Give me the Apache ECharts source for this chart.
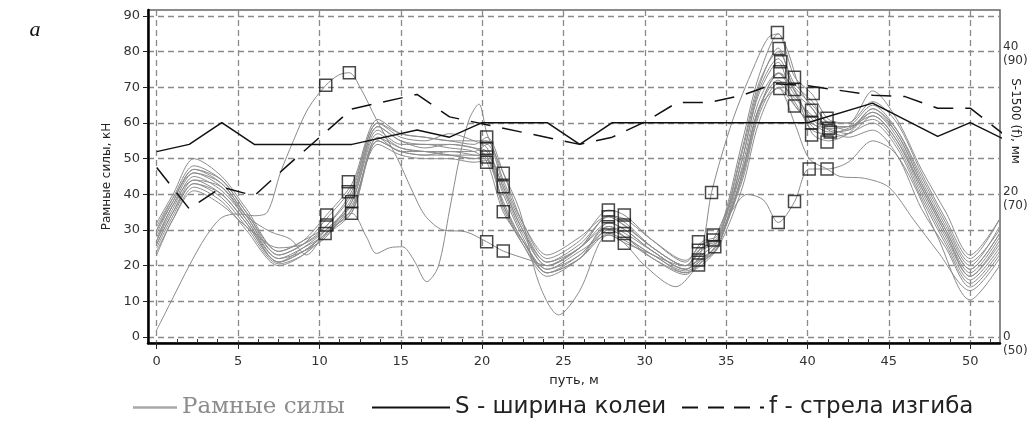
<!DOCTYPE html>
<html>
<head>
<meta charset="utf-8">
<script src="https://cdn.jsdelivr.net/npm/echarts@6/dist/echarts.min.js"></script>
<style>
html, body { margin: 0; padding: 0; background: #fff; }
#chart { width: 1032px; height: 428px; }
</style>
</head>
<body>
<div id="chart"></div>
<script>
// путь, м - common positions for the bundle of frame force runs
var pathX = [0, 1, 2.3, 4, 5.5, 7.5, 9, 10.4, 12, 13.6, 15, 16.5, 18, 19.5, 20.3, 21.3, 22.5, 24, 26, 27.8, 28.8, 30.5, 32.5, 33.5, 34.5, 36, 37, 38.2, 39.2, 40.3, 41.3, 42.5, 44, 45.5, 47, 48.5, 50, 51.8];

// Рамные силы, кН (each row = one run)
var forceRuns = [
  [32, 40, 50, 45, 36, 24, 27, 34, 43, 61, 57, 56, 55, 54, 56, 46, 32, 22, 27, 35.6, 34, 27, 21, 26.7, 28.6, 55, 73, 85, 73, 68, 61, 60, 66, 60, 46, 33, 22, 33],
  [30, 39, 48, 44, 35, 23, 26, 31, 41, 60, 56, 55, 57, 55, 53, 42, 30, 21, 26, 33.7, 31, 25, 20, 24.3, 27.2, 52, 70, 81, 69, 64, 58.5, 59, 65, 58, 44, 31, 20, 31],
  [29, 38, 47, 43, 34, 22, 25, 29, 39, 59, 55, 53, 54, 53, 50.5, 41, 29, 20, 25, 31, 29, 24, 19, 21.6, 25.3, 50, 68, 77, 65, 60, 57.5, 58, 64, 57, 43, 30, 19, 29],
  [28, 37, 46, 42, 33, 22, 24, 28, 38, 58, 54, 54, 53, 52, 49, 35, 27, 19, 24, 28.6, 26.3, 23, 18, 20.2, 25.3, 48, 66, 74, 69, 57, 55, 57, 63, 56, 42, 29, 18, 28],
  [27, 36, 45, 41, 33, 21, 25, 30, 38, 57, 53, 52, 52, 51, 50, 38, 27, 19, 23, 31, 28, 22, 17.5, 22, 26, 46, 64, 72, 66, 58, 57, 58.5, 62, 55, 41, 28, 17, 26],
  [26, 35, 44, 40, 32, 21, 24, 29, 36, 56, 52, 52, 51, 50, 51, 40, 28, 18, 22, 32, 30, 24, 19, 23, 27, 44, 62, 71, 67, 62, 59, 59, 61, 54, 40, 27, 16, 25],
  [25, 34, 43, 39, 31, 20.5, 23, 28.5, 35, 55, 52, 51, 52, 52, 54, 43, 31, 21, 25, 34, 32, 25, 20, 25, 27.5, 50, 69, 78, 70, 65, 60, 58, 64, 58, 45, 32, 21, 30],
  [24, 33, 42, 38, 30, 20, 23, 30, 37, 54, 51, 50, 50, 49, 49.5, 36, 26, 18, 22, 29, 27, 22, 18, 21, 25, 42, 60, 70, 65, 59, 56, 57, 60, 53, 39, 26, 15, 24],
  [31, 39, 46, 43, 34, 23, 26, 33, 42, 60, 57, 56, 55, 55, 55, 44, 32, 23, 28, 34, 33, 27, 21.5, 26, 28, 53, 71, 80, 71, 66, 60, 60, 69, 61, 47, 35, 23, 33],
  [23, 33, 41, 37, 31, 25, 26, 30, 35, 56, 53, 52, 51, 51, 51, 37, 26, 17, 22, 30, 28, 23, 20, 22, 26, 45, 63, 74, 68, 61, 58, 56, 58, 51, 36, 25, 14, 23]
];

// runs that leave the bundle, as [путь, сила]
var runTall = [[0, 2], [1, 11], [2, 20], [3, 28], [4, 33.5], [5, 34.5], [6, 34], [6.8, 35], [7.6, 46], [8.4, 55], [9.3, 64], [10.4, 70.6], [11.2, 73.5], [11.84, 74.1], [12.5, 70], [13.5, 61], [14.8, 50], [15.7, 41], [16.5, 34], [17.6, 30], [19, 29.5], [20.28, 26.7], [21.3, 24.1], [22.9, 21.6], [24, 20], [26, 25], [27.76, 33.7], [28.74, 31.4], [30.5, 25], [32.5, 20], [33.3, 24.3], [34.2, 27.2], [36, 47], [37, 64], [38.3, 74], [39.2, 69.4], [40.25, 60], [41.2, 58.5], [42.5, 57], [44, 62], [45.5, 55], [47, 42], [48.5, 29], [50, 17], [51.8, 27]];
var runDip = [[0, 27], [1, 37], [2.3, 44], [4, 42], [5.5, 34], [7, 29.5], [8.2, 27.5], [9.2, 23], [10.35, 29], [11.98, 34.7], [12.9, 28], [13.5, 23.4], [14.3, 25], [15.1, 25.3], [15.8, 21.6], [16.6, 15.5], [17.3, 19.7], [18, 35.6], [18.6, 50], [19.2, 61], [19.8, 65.3], [20.3, 57], [21.3, 46], [22.3, 35.6], [23.5, 15], [24.7, 6.2], [26, 13], [27.2, 26.3], [27.76, 28.6], [28.74, 26.3], [30, 20], [31.9, 14.1], [33.3, 20.2], [34.3, 25.3], [35.3, 35], [36.3, 40], [37.3, 38.4], [38.2, 32.1], [39.2, 37.9], [40.1, 47.1], [41.2, 47.1], [42.5, 49], [44, 55], [45.3, 52], [46.5, 43], [48, 28], [50, 10.4], [51.8, 20]];
var runEarly = [[0, 30], [1, 38], [2.3, 47], [4, 44], [5.5, 35], [7.5, 24], [9, 27], [10.4, 31], [12, 40], [13.6, 59], [15, 55], [16.5, 54], [18, 54], [19.5, 53], [20.3, 52], [21.3, 42], [22.5, 30], [24, 20], [26, 25], [27.8, 32], [28.8, 30], [30.5, 24], [32.5, 19], [33.3, 22], [33.7, 29], [34.1, 40.5], [35.4, 60.8], [36.7, 75.7], [37.6, 84], [38.2, 85], [38.8, 80], [39.5, 70], [40.3, 64], [41.3, 59], [42.5, 59], [44, 63], [45.5, 57], [47, 43], [48.5, 30], [50, 19], [51.8, 29]];
var runLow = [[0, 26], [1, 35], [2.3, 43], [4, 40], [5.5, 32], [7.5, 21], [9, 24], [10.4, 29], [12, 36], [13.6, 55], [15, 52], [16.5, 51], [18, 51], [19.5, 50], [20.3, 50], [21.3, 37], [22.5, 27], [24, 18], [26, 23], [27.8, 30], [28.8, 28], [30.5, 23], [32.5, 18.5], [33.5, 21], [34.5, 25.5], [36, 46], [37, 64], [38.2, 69.7], [39.2, 60], [40.1, 50], [41.2, 47.1], [42, 45], [43.5, 44.5], [45, 42], [46.5, 33], [48, 24], [50, 13], [51.8, 22]];

// marked points (squares)
var markPoints = [
  [10.39, 70.6], [11.84, 74.1], [11.78, 43.5], [10.45, 34.2], [10.45, 31.4], [10.35, 29], [11.78, 40.7], [11.98, 37.9], [11.98, 34.7],
  [20.28, 56.1], [20.28, 52.9], [20.28, 50.5], [20.28, 49], [21.3, 45.9], [21.3, 42.1], [21.3, 35.1], [20.28, 26.7], [21.3, 24.1],
  [27.76, 35.6], [27.76, 33.7], [27.76, 30.9], [27.76, 28.6], [28.74, 34.2], [28.74, 31.4], [28.74, 29], [28.74, 26.3],
  [33.3, 26.7], [33.3, 24.3], [33.3, 21.6], [33.3, 20.2], [34.2, 28.6], [34.2, 27.2], [34.3, 25.3], [34.1, 40.5],
  [38.15, 85.4], [38.25, 80.9], [38.35, 77.2], [38.3, 74.4], [38.3, 69.7], [39.2, 72.8], [39.2, 69.4], [39.2, 64.8],
  [40.35, 68.3], [40.25, 63.6], [40.25, 60], [40.25, 56.6], [41.2, 61.3], [41.3, 58.5], [41.4, 57.5], [41.2, 54.7],
  [40.1, 47.1], [41.2, 47.1], [39.2, 38], [38.2, 32.1]
];

// S-1500, мм (right scale)
var gaugeX = [0, 2, 4, 6, 12, 16, 18, 20, 24, 26, 28, 40, 44, 48, 50, 52];
var gaugeS = [25.6, 26.6, 29.6, 26.6, 26.6, 28.6, 27.6, 29.6, 29.6, 26.6, 29.6, 29.6, 32.3, 27.7, 29.6, 27.4];
// f, мм on the same right scale (label in brackets = f)
var bendX = [0, 2, 4, 6, 8, 12, 16, 18, 26, 28, 30, 32, 34, 36, 38, 40, 44, 46, 48, 50, 52];
var bendF = [23.4, 17.7, 20.7, 19.5, 23.6, 31.5, 33.5, 30.4, 26.6, 27.6, 29.7, 32.4, 32.4, 33.4, 35, 34.7, 33.4, 33.2, 31.6, 31.6, 28.1];

// ticks
var xTicks = [0, 5, 10, 15, 20, 25, 30, 35, 40, 45, 50];
var xMinorTicks = [1.25, 2.5, 3.75, 6.25, 7.5, 8.75, 11.25, 12.5, 13.75, 16.25, 17.5, 18.75, 21.25, 22.5, 23.75, 26.25, 27.5, 28.75, 31.25, 32.5, 33.75, 36.25, 37.5, 38.75, 41.25, 42.5, 43.75, 46.25, 47.5, 48.75, 51.25];
var yTicks = [0, 10, 20, 30, 40, 50, 60, 70, 80, 90];
var rightTicks = [0, 20, 40];
var rightLabels = ['0\n(50)', '20\n(70)', '40\n(90)'];

var chart = echarts.init(document.getElementById('chart'), null, { renderer: 'canvas' });

var gray = '#8c8c8c';
var series = [];
forceRuns.forEach(function (run) {
  series.push({
    name: 'Рамные силы', type: 'line', smooth: 0.3, symbol: 'none',
    data: pathX.map(function (x, i) { return [x, run[i]]; }),
    lineStyle: { color: gray, width: 1 }, itemStyle: { color: '#a8a8a8' }
  });
});
[runTall, runDip, runEarly, runLow].forEach(function (run) {
  series.push({
    name: 'Рамные силы', type: 'line', smooth: 0.3, symbol: 'none', data: run,
    lineStyle: { color: gray, width: 1 }, itemStyle: { color: '#a8a8a8' }
  });
});
series.push({
  name: 'S - ширина колеи', type: 'line', yAxisIndex: 1, symbol: 'none',
  data: gaugeX.map(function (x, i) { return [x, gaugeS[i]]; }),
  lineStyle: { color: '#111', width: 1.5 }, itemStyle: { color: '#111' }, z: 4
});
series.push({
  name: 'f - стрела изгиба', type: 'line', yAxisIndex: 1, symbol: 'none',
  data: bendX.map(function (x, i) { return [x, bendF[i]]; }),
  lineStyle: { color: '#111', width: 1.5, type: [20, 12] }, itemStyle: { color: '#111' }, z: 4
});
series.push({
  type: 'scatter', symbol: 'rect', symbolSize: 12, data: markPoints,
  itemStyle: { color: 'rgba(255,255,255,0)', borderColor: '#1a1a1a', borderWidth: 1.5 }, z: 5
});

var sans = 'DejaVu Sans';
var option = {
  animation: false,
  backgroundColor: '#fff',
  grid: { left: 148, top: 10, right: 32, bottom: 85, show: true, borderColor: '#666', borderWidth: 1.5 },
  xAxis: [{
    type: 'value', min: -0.535, max: 51.83,
    name: 'путь, м', nameLocation: 'middle', nameGap: 31,
    nameTextStyle: { fontFamily: sans, fontSize: 13, color: '#222' },
    axisLine: { onZero: false, lineStyle: { color: '#000', width: 2.5 } },
    axisTick: { customValues: xTicks, length: 6, lineStyle: { color: '#222' } },
    axisLabel: { customValues: xTicks, margin: 12, fontFamily: sans, fontSize: 13, color: '#333' },
    splitLine: { show: true, lineStyle: { color: '#8a8a8a', width: 1.3, type: [6, 4] } }
  }, {
    type: 'value', min: -0.535, max: 51.83, position: 'bottom',
    axisLine: { show: false, onZero: false },
    axisTick: { customValues: xMinorTicks, inside: true, length: 4, lineStyle: { color: '#333' } },
    axisLabel: { show: false }, splitLine: { show: false }
  }],
  yAxis: [{
    type: 'value', min: -1.68, max: 91.68,
    name: 'Рамные силы, кН', nameLocation: 'middle', nameRotate: 90, nameGap: 32,
    nameTextStyle: { fontFamily: sans, fontSize: 12, color: '#222' },
    axisLine: { show: true, onZero: false, lineStyle: { color: '#000', width: 2.5 } },
    axisTick: { show: true, customValues: yTicks, length: 5, lineStyle: { color: '#222' } },
    axisLabel: { customValues: yTicks, margin: 8, fontFamily: sans, fontSize: 13, color: '#333' },
    splitLine: { show: true, lineStyle: { color: '#8a8a8a', width: 1.3, type: [6, 4] } }
  }, {
    type: 'value', min: -0.83, max: 45.16, position: 'right',
    axisLine: { show: false, onZero: false }, axisTick: { show: false, customValues: rightTicks },
    axisLabel: {
      customValues: rightTicks, margin: 3, fontFamily: sans, fontSize: 12, color: '#333', lineHeight: 14,
      formatter: function (v) { return ' \n' + rightLabels[rightTicks.indexOf(v)]; }
    },
    splitLine: { show: false }
  }],
  legend: [{
    left: 128, top: 391, itemWidth: 44, itemHeight: 2.5, itemGap: 0,
    data: [{ name: 'Рамные силы', icon: 'rect', textStyle: { fontFamily: 'DejaVu Serif', fontSize: 23, color: '#8c8c8c' } }]
  }, {
    left: 367, top: 391, itemWidth: 78, itemHeight: 2,
    data: [{ name: 'S - ширина колеи', icon: 'rect', textStyle: { fontFamily: sans, fontSize: 23, color: '#222' } }]
  }, {
    left: 677, top: 391, itemWidth: 82, itemHeight: 2,
    data: [{
      name: 'f - стрела изгиба',
      icon: 'path://M0,0h16v2h-16z M26,0h16v2h-16z M52,0h16v2h-16z M78,0h4v2h-4z',
      textStyle: { fontFamily: sans, fontSize: 23, color: '#222' }
    }]
  }],
  graphic: [{
    type: 'text', x: 1015, y: 121, rotation: -Math.PI / 2,
    style: { text: 'S-1500 (f), мм', font: '12px "DejaVu Sans"', fill: '#222', textAlign: 'center', textVerticalAlign: 'middle' }
  }, {
    type: 'text', x: 35, y: 30,
    style: { text: 'a', font: 'italic 22px "Liberation Serif"', fill: '#111', textAlign: 'center', textVerticalAlign: 'middle' }
  }],
  series: series
};
chart.setOption(option);
</script>
</body>
</html>
